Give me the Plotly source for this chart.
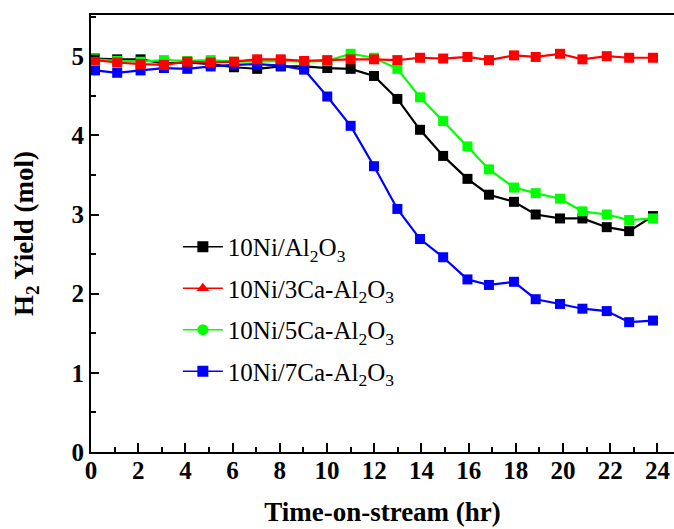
import plotly.graph_objects as go

times = [0.17, 1.11, 2.1, 3.09, 4.08, 5.07, 6.06, 7.04, 8.04, 9.03, 10.01, 11.0,
         11.99, 12.98, 13.94, 14.92, 15.95, 16.86, 17.92, 18.84, 19.87, 20.82, 21.85, 22.8, 23.81]

ni_al = [4.97, 4.96, 4.96, 4.91, 4.92, 4.90, 4.86, 4.84, 4.87, 4.87, 4.85, 4.84,
         4.75, 4.46, 4.07, 3.74, 3.45, 3.25, 3.16, 3.00, 2.95, 2.95, 2.84, 2.79, 2.98]
ni_3ca = [4.95, 4.92, 4.90, 4.89, 4.93, 4.92, 4.93, 4.96, 4.96, 4.94, 4.95, 4.96,
          4.96, 4.95, 4.98, 4.97, 4.99, 4.95, 5.01, 4.99, 5.03, 4.96, 5.00, 4.98, 4.98]
ni_5ca = [4.96, 4.94, 4.93, 4.95, 4.94, 4.95, 4.93, 4.93, 4.94, 4.93, 4.94, 5.03,
          4.98, 4.84, 4.48, 4.18, 3.86, 3.57, 3.34, 3.27, 3.20, 3.04, 3.00, 2.93, 2.95]
ni_7ca = [4.82, 4.79, 4.82, 4.85, 4.84, 4.87, 4.89, 4.90, 4.88, 4.83, 4.49, 4.12,
          3.61, 3.07, 2.69, 2.46, 2.18, 2.11, 2.15, 1.93, 1.87, 1.81, 1.78, 1.64, 1.66]

names = ["10Ni/Al<sub>2</sub>O<sub>3</sub>",
         "10Ni/3Ca-Al<sub>2</sub>O<sub>3</sub>",
         "10Ni/5Ca-Al<sub>2</sub>O<sub>3</sub>",
         "10Ni/7Ca-Al<sub>2</sub>O<sub>3</sub>"]
colors = ["#000000", "#ff0000", "#00ff00", "#0000ff"]
legend_symbols = ["square", "triangle-up", "circle", "square"]
series = [ni_al, ni_3ca, ni_5ca, ni_7ca]

fig = go.Figure()
# data traces (plot order: black, green, blue, red on top)
for i in [0, 2, 3, 1]:
    fig.add_trace(go.Scatter(
        x=times, y=series[i], mode="lines+markers",
        line=dict(color=colors[i], width=2.2),
        marker=dict(symbol="square", size=10, color=colors[i]),
        showlegend=False, hoverinfo="skip"))

# legend-only traces
for i in range(4):
    fig.add_trace(go.Scatter(
        x=[None], y=[None], mode="lines+markers", name=names[i],
        legendgroup=str(i),
        line=dict(color=colors[i], width=1.5),
        marker=dict(symbol=legend_symbols[i], size=11, color=colors[i])))

font_serif = "Liberation Serif, Times New Roman, serif"

fig.update_layout(
    width=674, height=529,
    margin=dict(l=91, r=0, t=15, b=77),
    paper_bgcolor="white", plot_bgcolor="white",
    font=dict(family=font_serif, color="black"),
    legend=dict(x=0.149, y=0.522, xanchor="left", yanchor="top",
                font=dict(size=25, family=font_serif),
                bgcolor="rgba(0,0,0,0)", tracegroupgap=6,
                traceorder="grouped", itemwidth=40),
    xaxis=dict(range=[0, 24.7], tickmode="linear", tick0=0, dtick=2,
               ticks="inside", ticklen=9, tickwidth=2, tickcolor="black",
               minor=dict(dtick=1, ticks="inside", ticklen=5, tickwidth=2, tickcolor="black"),
               showline=True, linewidth=2, linecolor="black", mirror=True,
               showgrid=False, zeroline=False, ticklabelstandoff=-5,
               tickfont=dict(size=25, family=font_serif, weight="bold"),
               title=dict(text="<b>Time-on-stream (hr)</b>", font=dict(size=27, family=font_serif),
                          standoff=19)),
    yaxis=dict(range=[0, 5.52], tickmode="linear", tick0=0, dtick=1,
               ticks="inside", ticklen=8, tickwidth=2, tickcolor="black",
               minor=dict(dtick=0.5, ticks="inside", ticklen=5, tickwidth=2, tickcolor="black"),
               showline=True, linewidth=2, linecolor="black", mirror=False,
               showgrid=False, zeroline=False,
               tickfont=dict(size=25, family=font_serif, weight="bold"),
               title=dict(text="<b>H<sub>2</sub> Yield (mol)</b>", font=dict(size=27, family=font_serif),
                          standoff=30)),
)

fig.write_html("out.html")
